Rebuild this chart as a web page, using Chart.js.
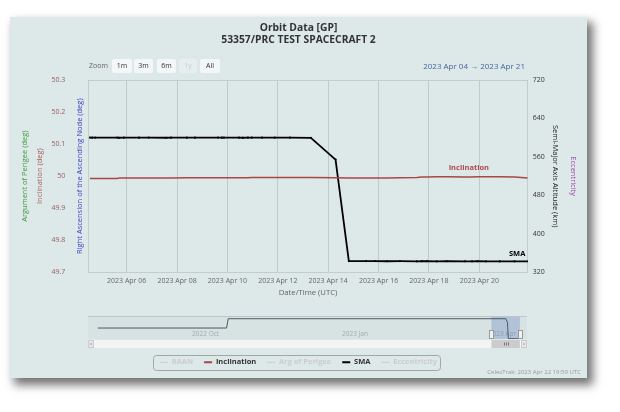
<!DOCTYPE html>
<html lang="en">
<head>
<meta charset="utf-8">
<title>Orbit Data [GP]</title>
<script src="https://cdn.jsdelivr.net/npm/chart.js@4.4.1/dist/chart.umd.min.js"></script>
<style>
    html, body { margin: 0; padding: 0; width: 620px; height: 412px; background: #ffffff; overflow: hidden; font-family: "Open Sans", sans-serif; }
    .card { position: absolute; left: 10px; top: 17px; width: 577px; height: 361px; background: #dde8e9; box-shadow: 5px 6px 9px 1px rgba(0, 0, 0, 0.55); }
    #orbitChart { position: absolute; left: 0; top: 0; }
    #navChart { position: absolute; left: 78px; top: 299px; }
    .zoom-label { position: absolute; left: 79px; top: 42px; height: 14px; line-height: 14px; font-size: 7px; color: #666666; }
    .zoom-btn { position: absolute; top: 42px; height: 14px; line-height: 14px; font-size: 7px; color: #333333; background: #f4f7f7; border-radius: 2px; text-align: center; }
    .zoom-btn.off { color: #cccccc; background: #e6eeef; }
    .range { position: absolute; right: 62px; top: 42px; height: 14px; line-height: 14px; font-size: 8px; color: #44679f; white-space: nowrap; }
    .credits { position: absolute; right: 6px; top: 351px; font-size: 6px; color: #999999; white-space: nowrap; }
</style>
</head>
<body>
<div class="card">
    <canvas id="orbitChart" width="577" height="361"></canvas>
    <div class="zoom-label">Zoom</div>
    <div class="zoom-btn" style="left:102px;width:20px">1m</div>
    <div class="zoom-btn" style="left:124px;width:19px">3m</div>
    <div class="zoom-btn" style="left:147px;width:19px">6m</div>
    <div class="zoom-btn off" style="left:169px;width:18px">1y</div>
    <div class="zoom-btn" style="left:190px;width:20px">All</div>
    <div class="range" id="rangeText"></div>
    <canvas id="navChart" width="439" height="33"></canvas>
    <div class="credits">CelesTrak: 2023 Apr 22 19:59 UTC</div>
</div>
<script>
/* ==========================================================================
   Data
   ========================================================================== */

const MONTHS = ['Jan', 'Feb', 'Mar', 'Apr', 'May', 'Jun', 'Jul', 'Aug', 'Sep', 'Oct', 'Nov', 'Dec'];

// GP element epochs (UTC)
const epochs = [
    '2023-04-04T13:00', '2023-04-04T15:00', '2023-04-04T18:00', '2023-04-05T15:00',
    '2023-04-05T16:30', '2023-04-05T21:20', '2023-04-06T11:45', '2023-04-06T21:00',
    '2023-04-07T13:30', '2023-04-07T18:15', '2023-04-08T09:20', '2023-04-08T17:00',
    '2023-04-09T15:00', '2023-04-09T18:45', '2023-04-09T20:40', '2023-04-10T11:00',
    '2023-04-10T14:40', '2023-04-10T19:30', '2023-04-10T23:15', '2023-04-11T09:00',
    '2023-04-11T21:00', '2023-04-12T11:30', '2023-04-13T07:30', '2023-04-14T07:00',
    '2023-04-14T19:40', '2023-04-15T12:00', '2023-04-15T20:40', '2023-04-16T08:00',
    '2023-04-16T20:25', '2023-04-17T12:30', '2023-04-17T17:15', '2023-04-17T22:05',
    '2023-04-18T07:25', '2023-04-18T17:00', '2023-04-19T10:20', '2023-04-19T17:00',
    '2023-04-19T22:35', '2023-04-20T06:15', '2023-04-20T19:25', '2023-04-21T09:35',
    '2023-04-21T22:05'
];

// semi-major axis altitude (km)
const smaKm = [
    600.2, 600.0, 600.1, 600.2, 599.9, 600.0, 600.1, 600.2,
    599.9, 600.0, 600.1, 600.0, 600.2, 600.1, 600.0, 600.1,
    599.9, 600.0, 600.1, 600.0, 600.1, 600.0, 599.8, 554.4,
    343.4, 343.2, 343.3, 343.0, 343.1, 342.9, 343.0, 343.1,
    342.8, 343.0, 342.9, 342.8, 343.0, 342.9, 342.7, 342.9,
    342.8
];

// inclination (deg)
const inclinationDeg = [
    49.993, 49.993, 49.993, 49.993, 49.994, 49.994, 49.994, 49.994,
    49.994, 49.994, 49.995, 49.995, 49.995, 49.995, 49.995, 49.995,
    49.995, 49.995, 49.996, 49.996, 49.996, 49.996, 49.996, 49.995,
    49.994, 49.994, 49.994, 49.994, 49.995, 49.996, 49.997, 49.997,
    49.998, 49.998, 49.997, 49.997, 49.998, 49.998, 49.998, 49.997,
    49.994
];

const xTickDates = ['2023-04-06', '2023-04-08', '2023-04-10', '2023-04-12', '2023-04-14', '2023-04-16', '2023-04-18', '2023-04-20'];
const inclinationTicks = [49.7, 49.8, 49.9, 50, 50.1, 50.2, 50.3];
const smaTicks = [320, 400, 480, 560, 640, 720];
const viewRange = ['2023-04-04T11:25', '2023-04-21T22:05'];

// navigator: full SMA history
const historyEpochs = ['2022-08-06', '2022-10-24', '2022-10-25', '2023-04-13T07:30', '2023-04-14T07:00', '2023-04-14T19:40', '2023-04-21T22:05'];
const historySma = [480, 480, 600, 600, 554.4, 343.4, 342.8];
const historyTicks = ['2022-10-01', '2023-01-01', '2023-04-01'];
const historyRange = ['2022-07-31', '2023-04-26T07:00'];

/* ==========================================================================
   Helpers
   ========================================================================== */

function toTime(s) {
    return Date.parse(s.length > 10 ? s + ':00Z' : s + 'T00:00:00Z');
}

function formatDay(ms) {
    const d = new Date(ms);
    return d.getUTCFullYear() + ' ' + MONTHS[d.getUTCMonth()] + ' ' + String(d.getUTCDate()).padStart(2, '0');
}

function formatMonth(ms) {
    const d = new Date(ms);
    return d.getUTCFullYear() + ' ' + MONTHS[d.getUTCMonth()];
}

function toPoints(xs, ys) {
    return xs.map((x, i) => ({ x: toTime(x), y: ys[i] }));
}

function setTicks(values) {
    return scale => { scale.ticks = values.map(v => ({ value: v })); };
}

function fixWidth(w) {
    return scale => { scale.width = w; };
}

function fixHeight(h) {
    return scale => { scale.height = h; };
}

/* ==========================================================================
   Plugins
   ========================================================================== */

// light frame round the plot area
const plotFrame = {
    id: 'plotFrame',
    beforeDatasetsDraw(chart, args, opts) {
        const { ctx, chartArea: a } = chart;
        ctx.save();
        ctx.strokeStyle = opts.color;
        ctx.lineWidth = 1;
        ctx.strokeRect(Math.round(a.left) + 0.5, Math.round(a.top) + 0.5, Math.round(a.width), Math.round(a.height));
        ctx.restore();
    }
};

// series names written next to their lines
const seriesLabels = {
    id: 'seriesLabels',
    afterDatasetsDraw(chart, args, opts) {
        const { ctx } = chart;
        opts.items.forEach(item => {
            if (!chart.isDatasetVisible(item.dataset)) return;
            const meta = chart.getDatasetMeta(item.dataset);
            const xPix = chart.scales.x.getPixelForValue(toTime(item.at));
            let near = meta.data[0];
            meta.data.forEach(p => {
                if (Math.abs(p.x - xPix) < Math.abs(near.x - xPix)) near = p;
            });
            ctx.save();
            ctx.font = 'bold 7.5px "Open Sans"';
            ctx.fillStyle = item.color;
            ctx.textAlign = 'center';
            ctx.textBaseline = 'middle';
            ctx.fillText(chart.data.datasets[item.dataset].label, xPix, near.y + item.dy);
            ctx.restore();
        });
    }
};

// rounded border round the legend items
const legendFrame = {
    id: 'legendFrame',
    afterDraw(chart, args, opts) {
        const boxes = chart.legend && chart.legend.legendHitBoxes;
        if (!boxes || !boxes.length) return;
        const { ctx } = chart;
        const first = boxes[0];
        const last = boxes[boxes.length - 1];
        const left = Math.round(first.left - opts.padLeft);
        const right = Math.round(last.left + last.width + opts.padRight);
        const top = Math.round(first.top + first.height / 2 - opts.height / 2);
        ctx.save();
        ctx.strokeStyle = opts.color;
        ctx.lineWidth = 1;
        ctx.beginPath();
        ctx.roundRect(left + 0.5, top + 0.5, right - left, opts.height, 3);
        ctx.stroke();
        ctx.restore();
    }
};

// navigator mask, month labels, handles and scrollbar
const navigatorChrome = {
    id: 'navigatorChrome',
    beforeDatasetsDraw(chart, args, opts) {
        const { ctx, chartArea: a, scales: { x } } = chart;
        const x0 = x.getPixelForValue(toTime(viewRange[0]));
        const x1 = x.getPixelForValue(toTime(viewRange[1]));
        ctx.save();
        ctx.fillStyle = 'rgba(0, 0, 0, 0.025)';
        ctx.fillRect(a.left, a.top, a.width, a.height);
        // month labels, left-aligned just after their tick
        ctx.font = '6.5px "Open Sans"';
        ctx.fillStyle = opts.labelColor;
        ctx.textAlign = 'left';
        ctx.textBaseline = 'middle';
        x.ticks.forEach(t => {
            ctx.fillText(formatMonth(t.value), x.getPixelForValue(t.value) + 3, a.bottom - 4.5);
        });
        ctx.fillStyle = 'rgba(102, 133, 194, 0.35)';
        ctx.fillRect(x0, a.top, x1 - x0, a.height);
        ctx.strokeStyle = '#bcc6c8';
        ctx.lineWidth = 1;
        ctx.beginPath();
        ctx.moveTo(a.left, a.top + 0.5);
        ctx.lineTo(a.right, a.top + 0.5);
        ctx.stroke();
        ctx.restore();
    },
    afterDatasetsDraw(chart) {
        const { ctx, chartArea: a, scales: { x } } = chart;
        const x0 = x.getPixelForValue(toTime(viewRange[0]));
        const x1 = x.getPixelForValue(toTime(viewRange[1]));
        ctx.save();
        // handles
        [x0, x1].forEach(px => {
            ctx.fillStyle = '#f2f2f2';
            ctx.strokeStyle = '#999999';
            ctx.fillRect(Math.round(px) - 2, a.bottom - 9, 4, 8);
            ctx.strokeRect(Math.round(px) - 1.5, a.bottom - 8.5, 4, 8);
        });
        // scrollbar
        const top = a.bottom + 1;
        const h = 8;
        ctx.fillStyle = '#f3f5f5';
        ctx.fillRect(a.left + 6, top, a.width - 12, h);
        ctx.fillStyle = '#e6e6e6';
        ctx.strokeStyle = '#cccccc';
        ctx.fillRect(a.left, top, 6, h);
        ctx.strokeRect(a.left + 0.5, top + 0.5, 5, h - 1);
        ctx.fillRect(a.right - 6, top, 6, h);
        ctx.strokeRect(a.right - 5.5, top + 0.5, 5, h - 1);
        ctx.fillStyle = '#555555';
        ctx.fillRect(a.left + 2.5, top + 3.5, 1, 1);
        ctx.fillRect(a.right - 3.5, top + 3.5, 1, 1);
        ctx.fillStyle = '#cccccc';
        ctx.fillRect(x0, top, x1 - x0, h);
        ctx.fillStyle = '#777777';
        const mid = (x0 + x1) / 2;
        [-2, 0, 2].forEach(d => ctx.fillRect(Math.round(mid + d), top + 2.5, 1, 3));
        ctx.restore();
    }
};

/* ==========================================================================
   Main chart
   ========================================================================== */

Chart.defaults.font.family = '"Open Sans", sans-serif';

const hiddenColor = '#cccccc';

function legendLabels(chart) {
    return chart.data.datasets.map((ds, i) => {
        const on = chart.isDatasetVisible(i);
        return {
            text: ds.label,
            datasetIndex: i,
            fillStyle: on ? ds.borderColor : hiddenColor,
            strokeStyle: on ? ds.borderColor : hiddenColor,
            lineWidth: on ? 2 : 1,
            fontColor: on ? '#333333' : hiddenColor,
            pointStyle: 'line',
            hidden: false
        };
    });
}

function sideAxis(position, weight, width, title, color, pad) {
    return {
        position: position,
        weight: weight,
        min: 0,
        max: 1,
        afterFit: fixWidth(width),
        grid: { display: false, drawTicks: false },
        border: { display: false },
        ticks: { display: false },
        title: { display: true, text: title, color: color, font: { size: 7.5 }, padding: { top: pad, bottom: 0 } }
    };
}

const orbitChart = new Chart(document.getElementById('orbitChart'), {
    type: 'line',
    data: {
        datasets: [
            { label: 'RAAN', data: [], yAxisID: 'yRaan', borderColor: '#3b3bc4', hidden: true },
            {
                label: 'Inclination',
                data: toPoints(epochs, inclinationDeg),
                yAxisID: 'yInc',
                borderColor: '#aa4643',
                borderWidth: 1.5,
                pointRadius: 0,
                tension: 0
            },
            { label: 'Arg of Perigee', data: [], yAxisID: 'yArgp', borderColor: '#3c9a3c', hidden: true },
            {
                label: 'SMA',
                data: toPoints(epochs, smaKm),
                yAxisID: 'ySma',
                borderColor: '#000000',
                borderWidth: 1.8,
                pointRadius: 1.1,
                pointBorderWidth: 0,
                pointBackgroundColor: '#000000',
                tension: 0
            },
            { label: 'Eccentricity', data: [], yAxisID: 'yEcc', borderColor: '#9a3fa8', hidden: true }
        ]
    },
    options: {
        responsive: false,
        animation: false,
        events: [],
        layout: { padding: { left: 0, right: 0, top: 0, bottom: 2 } },
        scales: {
            x: {
                type: 'linear',
                min: toTime(viewRange[0]),
                max: toTime(viewRange[1]),
                afterBuildTicks: setTicks(xTickDates.map(toTime)),
                afterFit: fixHeight(75.2),
                grid: { color: 'rgba(0, 0, 0, 0.13)', drawTicks: false },
                border: { display: false },
                ticks: {
                    padding: 4.8,
                    color: '#666666',
                    font: { size: 7 },
                    maxRotation: 0,
                    autoSkip: false,
                    callback: v => formatDay(v)
                },
                title: { display: true, text: 'Date/Time (UTC)', color: '#666666', font: { size: 7.7 }, padding: { top: 0, bottom: 49.7 } }
            },
            yArgp: sideAxis('left', 3, 22, 'Argument of Perigee (deg)', '#3c9a3c', 10.2),
            yInc: {
                position: 'left',
                weight: 2,
                min: 49.7,
                max: 50.3,
                afterBuildTicks: setTicks(inclinationTicks),
                afterFit: fixWidth(40),
                grid: { display: false, drawTicks: false },
                border: { display: false },
                ticks: { padding: 6.7, color: '#9a5a5a', font: { size: 7 }, callback: v => String(v) },
                title: { display: true, text: 'Inclination (deg)', color: '#a85a5a', font: { size: 7.5 }, padding: { top: 3.8, bottom: 0 } }
            },
            yRaan: sideAxis('left', 1, 16.3, 'Right Ascension of the Ascending Node (deg)', '#3b3bc4', 3.8),
            ySma: {
                position: 'right',
                weight: 1,
                min: 320,
                max: 720,
                afterBuildTicks: setTicks(smaTicks),
                afterFit: fixWidth(36.3),
                grid: { display: false, drawTicks: false },
                border: { display: false },
                ticks: { padding: 5, color: '#333333', font: { size: 7 } },
                title: { display: true, text: 'Semi-Major Axis Altitude (km)', color: '#222222', font: { size: 7.5 }, padding: { top: 4.5, bottom: 0 } }
            },
            yEcc: sideAxis('right', 2, 23, 'Eccentricity', '#9a3fa8', 9.2)
        },
        plugins: {
            title: {
                display: true,
                text: ['Orbit Data [GP]', '53357/PRC TEST SPACECRAFT 2'],
                color: '#333333',
                font: { size: 10.3, weight: 'bold', lineHeight: 1.2 },
                padding: { top: 4.8, bottom: 33.5 }
            },
            legend: {
                position: 'bottom',
                labels: {
                    usePointStyle: true,
                    pointStyleWidth: 8,
                    padding: 11,
                    font: { size: 7.5, weight: 'bold' },
                    generateLabels: legendLabels
                }
            },
            tooltip: { enabled: false },
            plotFrame: { color: '#c3cdce' },
            seriesLabels: {
                items: [
                    { dataset: 1, at: '2023-04-19T14:00', dy: -9, color: '#b04848' },
                    { dataset: 3, at: '2023-04-21T12:00', dy: -7, color: '#000000' }
                ]
            },
            legendFrame: { color: '#a0a8a9', padLeft: 7, padRight: 3, height: 15 }
        }
    },
    plugins: [plotFrame, seriesLabels, legendFrame]
});

document.getElementById('rangeText').textContent =
    formatDay(toTime(viewRange[0])) + '  \u2192  ' + formatDay(toTime(viewRange[1]));

/* ==========================================================================
   Navigator
   ========================================================================== */

const navChart = new Chart(document.getElementById('navChart'), {
    type: 'line',
    data: {
        datasets: [{
            data: toPoints(historyEpochs, historySma),
            borderColor: '#4b5a61',
            borderWidth: 1,
            pointRadius: 0,
            tension: 0
        }]
    },
    options: {
        responsive: false,
        animation: false,
        events: [],
        layout: { padding: 0 },
        scales: {
            x: {
                type: 'linear',
                min: toTime(historyRange[0]),
                max: toTime(historyRange[1]),
                afterBuildTicks: setTicks(historyTicks.map(toTime)),
                afterFit: fixHeight(10),
                grid: { display: false, drawTicks: false },
                border: { display: false },
                ticks: { display: false }
            },
            y: { display: false, min: 339, max: 635 }
        },
        plugins: {
            legend: { display: false },
            title: { display: false },
            tooltip: { enabled: false },
            navigatorChrome: { labelColor: '#a0a9ab' }
        }
    },
    plugins: [navigatorChrome]
});
</script>
</body>
</html>
